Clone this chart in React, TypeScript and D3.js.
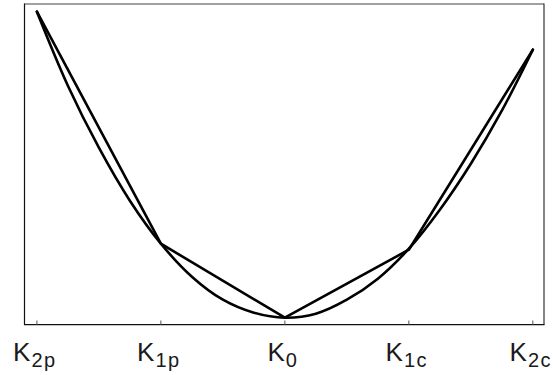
import React, { useEffect, useRef } from 'react';
import * as d3 from 'd3';

// strike positions (tick units) and their labels
const strikes = [-2, -1, 0, 1, 2];
const tickMain = ['K', 'K', 'K', 'K', 'K'];
const tickSub = ['2p', '1p', '0', '1c', '2c'];

// piecewise-linear values at the strikes
const chordValues = [3.06, 0.74, 0, 0.68, 2.68];

// smooth curve
const curveX = [-2, -1.75, -1.5, -1.25, -1, -0.75, -0.5, -0.25, 0, 0.25, 0.5, 0.75, 1, 1.25, 1.5, 1.75, 2];
const curveY = [3.06, 2.32, 1.7, 1.17, 0.74, 0.41, 0.18, 0.05, 0, 0.04, 0.18, 0.39, 0.69, 1.08, 1.54, 2.07, 2.68];

function App() {
    const ref = useRef<SVGSVGElement>(null);

    useEffect(() => {
        const svg = d3.select(ref.current);
        svg.selectAll('*').remove();

        const x = d3.scaleLinear().domain([-2.1, 2.09]).range([24.5, 544]);
        const y = d3.scaleLinear().domain([-0.07, 3.142]).range([324.7, 3.5]);

        // frame
        svg.append('line')
            .attr('x1', 24.5).attr('x2', 544).attr('y1', 4).attr('y2', 4)
            .attr('stroke', '#808080').attr('stroke-width', 1.3);
        svg.append('line')
            .attr('x1', 544).attr('x2', 544).attr('y1', 3.5).attr('y2', 324.7)
            .attr('stroke', '#333').attr('stroke-width', 1.2);
        svg.append('line')
            .attr('x1', 24.5).attr('x2', 24.5).attr('y1', 3.5).attr('y2', 324.7)
            .attr('stroke', '#111').attr('stroke-width', 1.2);
        svg.append('line')
            .attr('x1', 24).attr('x2', 544.5).attr('y1', 324.7).attr('y2', 324.7)
            .attr('stroke', '#111').attr('stroke-width', 1.2);

        // ticks pointing in
        svg.append('g').selectAll('line')
            .data(strikes)
            .enter()
            .append('line')
            .attr('x1', d => x(d)).attr('x2', d => x(d))
            .attr('y1', 324.7).attr('y2', 320.5)
            .attr('stroke', '#555').attr('stroke-width', 1);

        // labels
        const labels = svg.append('g').attr('fill', '#1a1a1a');
        strikes.forEach((d, i) => {
            const t = labels.append('text')
                .attr('x', x(d) - 2)
                .attr('y', 361)
                .attr('text-anchor', 'middle')
                .style('font-family', "'Liberation Sans', Arimo, Arial, sans-serif")
                .style('font-size', '26px');
            t.append('tspan').text(tickMain[i]);
            t.append('tspan')
                .style('font-size', '20px')
                .attr('dy', 6)
                .attr('dx', 1)
                .attr('letter-spacing', 1.5)
                .text(tickSub[i]);
        });

        const smooth = d3.line<number>()
            .x(d => x(d))
            .y((d, i) => y(curveY[i]))
            .curve(d3.curveCatmullRom);

        svg.append('path')
            .attr('d', smooth(curveX))
            .attr('fill', 'none')
            .attr('stroke', '#000')
            .attr('stroke-width', 2.6)
            .attr('stroke-linejoin', 'round')
            .attr('stroke-linecap', 'round');

        const chord = d3.line<number>()
            .x(d => x(d))
            .y((d, i) => y(chordValues[i]));

        svg.append('path')
            .attr('d', chord(strikes))
            .attr('fill', 'none')
            .attr('stroke', '#000')
            .attr('stroke-width', 2.6)
            .attr('stroke-linejoin', 'round')
            .attr('stroke-linecap', 'round');
    }, []);

    return (
        <svg ref={ref} width={553} height={375}
            style={{ position: 'absolute', left: 0, top: 0, background: '#fff' }}></svg>
    );
}

export default App;
